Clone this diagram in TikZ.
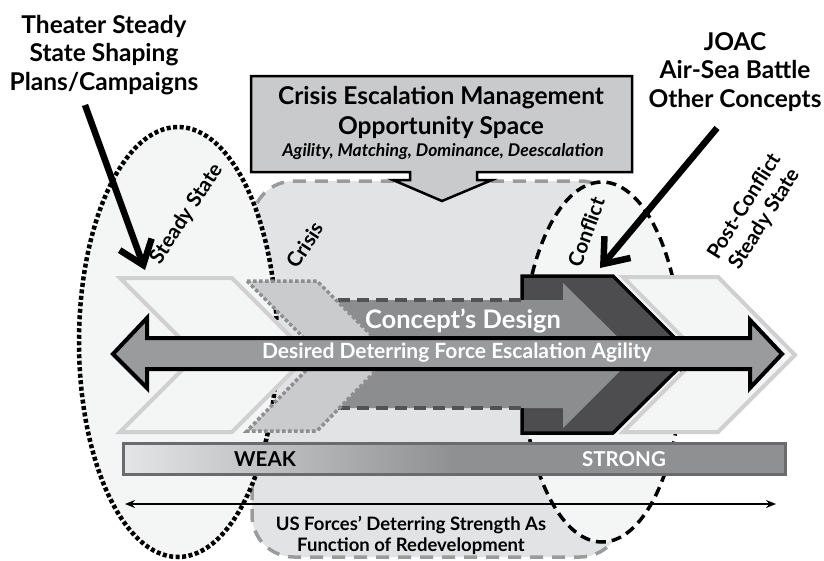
\documentclass[tikz,border=0pt]{standalone}
\usepackage{fontspec}
\setmainfont{Lato}
\usetikzlibrary{arrows.meta}
\definecolor{ellfill}{HTML}{F4F5F5}
\definecolor{crisisfill}{HTML}{E2E3E4}
\definecolor{crisisdash}{HTML}{9B9B9B}
\definecolor{boxfill}{HTML}{C9CACB}
\definecolor{chevline}{HTML}{D0D0D0}
\definecolor{crischev}{HTML}{CACBCC}
\definecolor{crisdot}{HTML}{8E8E8E}
\definecolor{conceptfill}{HTML}{8C8D8F}
\definecolor{conceptdash}{HTML}{525254}
\definecolor{conflictfill}{HTML}{4D4D4F}
\definecolor{arrowfill}{HTML}{9A9B9D}
\definecolor{barL}{HTML}{E4E5E6}
\definecolor{barM}{HTML}{8F9092}
\definecolor{barline}{HTML}{6B6B6D}
\tikzset{
  titletext/.style={font=\fontsize{24.5}{28.5}\selectfont\bfseries, align=center, inner sep=0pt},
  boxtext/.style={font=\fontsize{24.5}{30}\selectfont\bfseries, align=center, inner sep=0pt},
  boxital/.style={font=\fontsize{17.5}{19}\selectfont\bfseries\itshape, inner sep=0pt},
  phaselabel/.style={font=\fontsize{20.5}{24}\selectfont\bfseries, align=center, inner sep=0pt},
  bigpointer/.style={line width=6.5pt, -{Straight Barb[length=22pt,width=34pt]}},
  chevlight/.style={fill=ellfill, draw=chevline, line width=4pt, line join=miter},
  whitetext/.style={text=white, inner sep=0pt},
}
\begin{document}
\begin{tikzpicture}[x=1pt,y=-1pt]
\useasboundingbox (0,0) rectangle (824,560);
% crisis opportunity region
\draw[crisisdash, fill=crisisfill, line width=3.5pt, dash pattern=on 13pt off 9pt, rounded corners=42pt] (252,181) rectangle (622,557);
% steady state ellipse
\draw[fill=ellfill, line width=4.5pt, dash pattern=on 4pt off 2.5pt] (178,342) ellipse [x radius=99, y radius=215];
% conflict ellipse
\draw[fill=ellfill, line width=3.5pt, dash pattern=on 10pt off 6pt] (602,362) ellipse [x radius=80, y radius=180];
% top callout box
\draw[fill=boxfill, line width=2.5pt, line join=miter] (251,76) -- (632,76) -- (632,172) -- (477,172) -- (477,180) -- (492,180) -- (442,201) -- (393,180) -- (410,180) -- (410,172) -- (251,172) -- cycle;
\node[boxtext] (cem) at (441,112) {Crisis Escalation Management\\Opportunity Space};
\node[boxital] (ital) at (443,152) {Agility, Matching, Dominance, Deescalation};
% chevrons
\draw[chevlight] (120,278) -- (232,278) -- (309,355) -- (232,432) -- (120,432) -- (197,355) -- cycle;
\draw[chevlight] (623,277) -- (718,277) -- (795,355) -- (718,432) -- (623,432) -- (700,355) -- cycle;
\draw[fill=conflictfill, line width=3.5pt, line join=miter] (522,276) -- (613,276) -- (692,355) -- (613,433) -- (522,433) -- cycle;
% concept arrow
\fill[conceptfill] (330,300) -- (563,300) -- (563,283) -- (636,355) -- (563,428) -- (563,408) -- (330,408) -- (385,355) -- cycle;
\draw[conceptdash, line width=3.5pt, dash pattern=on 12pt off 7pt] (338,300) -- (522,300);
\draw[conceptdash, line width=3.5pt, dash pattern=on 12pt off 7pt] (338,408) -- (522,408);
% crisis chevron
\draw[fill=crischev, draw=crisdot, line width=3.5pt, dash pattern=on 3.5pt off 2.5pt] (247,281) -- (317,281) -- (391,355) -- (317,431) -- (247,431) -- (321,355) -- cycle;
\node[whitetext, font=\fontsize{25.5}{27}\selectfont\bfseries] (design) at (463,321) {Concept’s Design};
% main double arrow
\draw[fill=arrowfill, line width=4pt, line join=miter] (113,354) -- (147,318) -- (147,338) -- (750,338) -- (750,320) -- (782,354) -- (750,388) -- (750,369) -- (147,369) -- (147,388) -- cycle;
\node[whitetext, font=\fontsize{21}{23}\selectfont\bfseries] (agility) at (457,353) {Desired Deterring Force Escalation Agility};
% strength bar
\shade[left color=barL, right color=barM] (123,443) rectangle (455,474);
\fill[barM] (455,443) rectangle (785,474);
\draw[barline, line width=3pt] (123,443) rectangle (785,474);
\node[inner sep=0pt, font=\fontsize{20.5}{22}\selectfont\bfseries] (weak) at (265,459) {WEAK};
\node[whitetext, font=\fontsize{20.5}{22}\selectfont\bfseries] (strong) at (624,459) {STRONG};
% bottom axis
\coordinate (axl) at (125,504);
\coordinate (axr) at (776,504);
\draw[line width=2pt, {Stealth[length=10pt,width=8pt]}-{Stealth[length=10pt,width=8pt]}] (axl) -- (axr);
\node[inner sep=0pt, align=center, font=\fontsize{18.5}{21}\selectfont\bfseries] (usf) at (411,535) {US Forces’ Deterring Strength As\\Function of Redevelopment};
% phase labels
\node[phaselabel, rotate=57] (lss) at (187,214) {Steady State};
\node[phaselabel, rotate=57] (lcr) at (305,245) {Crisis};
\node[phaselabel, rotate=70] (lcf) at (586,232) {Conflict};
\node[phaselabel, rotate=58] (lpc) at (755,213) {Post-Conflict\\Steady State};
% titles and pointers
\node[titletext] (tleft) at (104,55) {Theater Steady\\State Shaping\\Plans/Campaigns};
\node[titletext] (tright) at (735,72) {JOAC\\Air-Sea Battle\\Other Concepts};
\coordinate (lp1) at (85,105);
\coordinate (lp2) at (145,270);
\coordinate (rp1) at (717,128);
\coordinate (rp2) at (600,268);
\draw[bigpointer] (lp1) -- (lp2);
\draw[bigpointer] (rp1) -- (rp2);
\end{tikzpicture}
\end{document}
